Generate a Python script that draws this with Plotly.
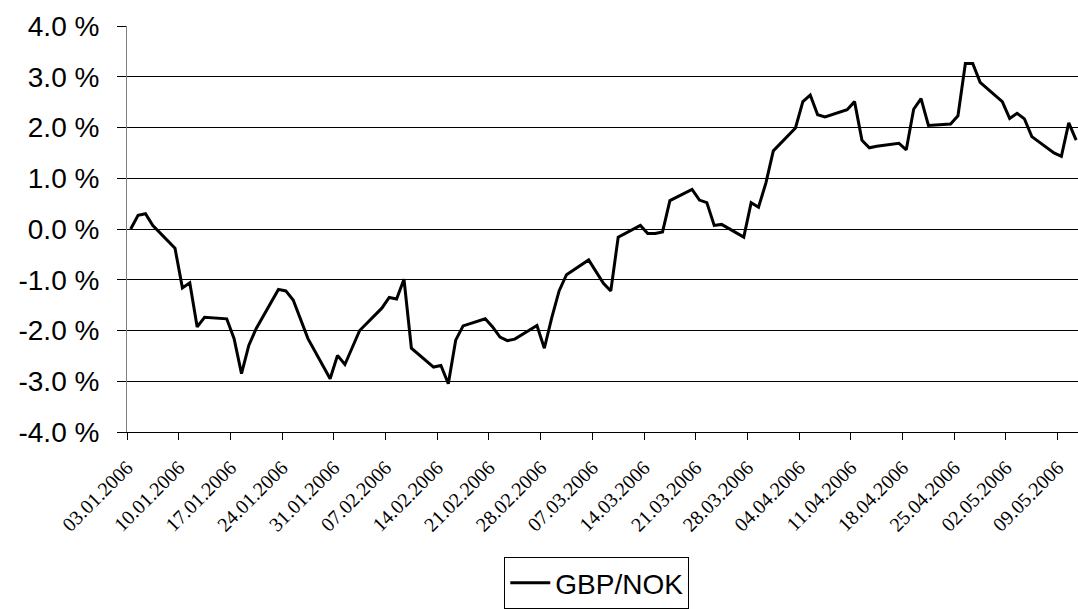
import plotly.graph_objects as go

dates = [
    "2006-01-03", "2006-01-04", "2006-01-05", "2006-01-06", "2006-01-09", "2006-01-10", "2006-01-11",
    "2006-01-12", "2006-01-13", "2006-01-16", "2006-01-17", "2006-01-18", "2006-01-19", "2006-01-20",
    "2006-01-23", "2006-01-24", "2006-01-25", "2006-01-26", "2006-01-27", "2006-01-30", "2006-01-31",
    "2006-02-01", "2006-02-02", "2006-02-03", "2006-02-06", "2006-02-07", "2006-02-08", "2006-02-09",
    "2006-02-10", "2006-02-13", "2006-02-14", "2006-02-15", "2006-02-16", "2006-02-17", "2006-02-20",
    "2006-02-21", "2006-02-22", "2006-02-23", "2006-02-24", "2006-02-27", "2006-02-28",
    "2006-03-01", "2006-03-02", "2006-03-03", "2006-03-06", "2006-03-07", "2006-03-08", "2006-03-09",
    "2006-03-10", "2006-03-13", "2006-03-14", "2006-03-15", "2006-03-16", "2006-03-17", "2006-03-20",
    "2006-03-21", "2006-03-22", "2006-03-23", "2006-03-24", "2006-03-27", "2006-03-28", "2006-03-29",
    "2006-03-30", "2006-03-31",
    "2006-04-03", "2006-04-04", "2006-04-05", "2006-04-06", "2006-04-07", "2006-04-10", "2006-04-11",
    "2006-04-12", "2006-04-13", "2006-04-14", "2006-04-17", "2006-04-18", "2006-04-19", "2006-04-20",
    "2006-04-21", "2006-04-24", "2006-04-25", "2006-04-26", "2006-04-27", "2006-04-28",
    "2006-05-01", "2006-05-02", "2006-05-03", "2006-05-04", "2006-05-05", "2006-05-08", "2006-05-09",
    "2006-05-10", "2006-05-11",
]

gbp_nok = [
    0.00, 0.27, 0.30, 0.07, -0.38, -1.16, -1.06,
    -1.93, -1.74, -1.77, -2.16, -2.85, -2.29, -1.96,
    -1.19, -1.22, -1.40, -1.78, -2.16, -2.95, -2.49,
    -2.67, -2.33, -2.00, -1.56, -1.35, -1.38, -0.99,
    -2.35, -2.72, -2.69, -3.05, -2.19, -1.91, -1.77,
    -1.93, -2.13, -2.20, -2.17, -1.90, -2.35,
    -1.75, -1.22, -0.90, -0.61, -0.85, -1.07, -1.22,
    -0.16, 0.07, -0.09, -0.09, -0.06, 0.56, 0.78,
    0.57, 0.52, 0.07, 0.09, -0.16, 0.52, 0.43,
    0.91, 1.54,
    1.99, 2.51, 2.64, 2.25, 2.21, 2.35, 2.51,
    1.75, 1.60, 1.63, 1.69, 1.56, 2.36, 2.57,
    2.04, 2.07, 2.23, 3.26, 3.26, 2.89,
    2.51, 2.18, 2.28, 2.17, 1.82, 1.50, 1.43,
    2.09, 1.75,
]

# tick marks sit on day boundaries (Excel "between tick marks" date axis)
x_tick_positions = [
    "2006-01-02 12:00", "2006-01-09 12:00", "2006-01-16 12:00", "2006-01-23 12:00", "2006-01-30 12:00",
    "2006-02-06 12:00", "2006-02-13 12:00", "2006-02-20 12:00", "2006-02-27 12:00", "2006-03-06 12:00",
    "2006-03-13 12:00", "2006-03-20 12:00", "2006-03-27 12:00", "2006-04-03 12:00", "2006-04-10 12:00",
    "2006-04-17 12:00", "2006-04-24 12:00", "2006-05-01 12:00", "2006-05-08 12:00",
]
x_tick_labels = [
    "03.01.2006", "10.01.2006", "17.01.2006", "24.01.2006", "31.01.2006", "07.02.2006", "14.02.2006",
    "21.02.2006", "28.02.2006", "07.03.2006", "14.03.2006", "21.03.2006", "28.03.2006", "04.04.2006",
    "11.04.2006", "18.04.2006", "25.04.2006", "02.05.2006", "09.05.2006",
]
y_tick_vals = [-4, -3, -2, -1, 0, 1, 2, 3, 4]
y_tick_labels = ["-4.0 %", "-3.0 %", "-2.0 %", "-1.0 %", "0.0 %", "1.0 %", "2.0 %", "3.0 %", "4.0 %"]

fig = go.Figure()
fig.add_trace(go.Scatter(
    x=dates, y=gbp_nok, mode="lines", name="GBP/NOK",
    line=dict(color="black", width=3),
))

fig.update_layout(
    width=1078, height=609,
    margin=dict(l=127, r=0, t=26, b=171),
    paper_bgcolor="white", plot_bgcolor="white",
    showlegend=True,
    legend=dict(
        orientation="h", x=0.494, xanchor="center", y=-0.308, yanchor="top",
        bordercolor="black", borderwidth=1,
        font=dict(family="Liberation Sans, Arial", size=28, color="black"),
        itemwidth=40,
    ),
)

fig.update_xaxes(
    range=["2006-01-02 12:00", "2006-05-11 06:00"],
    tickvals=x_tick_positions, ticktext=x_tick_labels,
    tickangle=-45,
    tickfont=dict(family="Liberation Serif, Times New Roman", size=20, color="black"),
    ticks="outside", ticklen=7, tickcolor="black", tickwidth=1,
    ticklabelstandoff=8,
    showline=True, linecolor="black", linewidth=1,
    showgrid=False, zeroline=False,
)

fig.update_yaxes(
    range=[-4, 4],
    tickvals=y_tick_vals, ticktext=y_tick_labels,
    tickfont=dict(family="Liberation Sans, Arial", size=28, color="black"),
    ticks="outside", ticklen=9, tickcolor="black", tickwidth=1,
    ticklabelstandoff=12,
    showline=True, linecolor="#808080", linewidth=1,
    showgrid=True, gridcolor="black", gridwidth=1,
    zeroline=False,
)

# remove the default 8px page margin so the 1078x609 figure fills the window exactly
page_fix = (
    "document.documentElement.style.margin='0';"
    "document.body.style.margin='0';"
    "document.body.style.overflow='hidden';"
)

fig.write_html("out.html", post_script=page_fix, config={"displayModeBar": False})
